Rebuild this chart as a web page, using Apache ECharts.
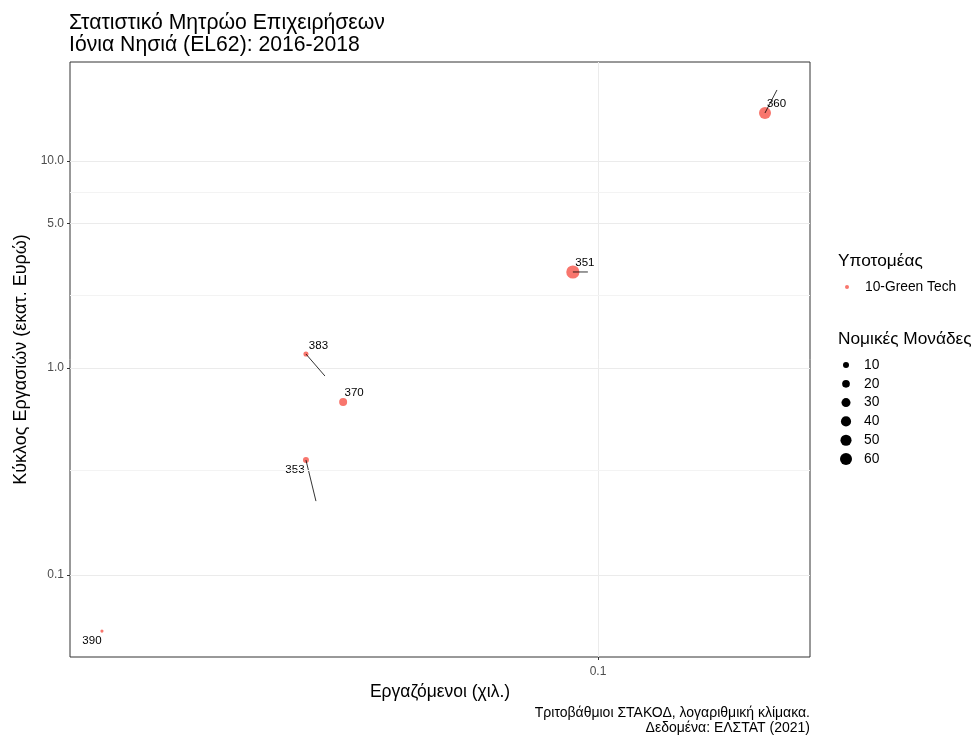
<!DOCTYPE html>
<html><head><meta charset="utf-8">
<script src="https://cdn.jsdelivr.net/npm/echarts@6/dist/echarts.min.js"></script>
<style>html,body{margin:0;padding:0;background:#fff}#c{width:972px;height:736px}</style>
</head><body><div id="c"></div><script>
// ---- data ----
const codes = ['351', '353', '360', '370', '383', '390'];
const employees = [0.0908, 0.0326, 0.1898, 0.0376, 0.0326, 0.0149];   // χιλ.
const turnover = [2.91, 0.359, 17.06, 0.685, 1.168, 0.0536];          // εκατ. Ευρώ
const units = [75, 10, 60, 22, 6, 1];                                  // Νομικές Μονάδες
const subsector = '10-Green Tech';
const sizeBreaks = [10, 20, 30, 40, 50, 60];
const xTicks = [0.1];
const xTickLabels = ['0.1'];
const yTicks = [0.1, 1, 5, 10];
const yTickLabels = ['0.1', '1.0', '5.0', '10.0'];
const yMinor = [0.316, 2.236, 7.071];

// ---- styling (label placement from ggrepel, in pixels) ----
const labelOffsets = {'351': [12, -9], '353': [-11, 10], '360': [11.5, -9], '370': [11, -9], '383': [12.5, -8.5], '390': [-10, 10]};
const segments = {'351': [15, 0], '353': [10, 41], '360': [12, -23], '383': [19, 22]};
const FONT = '"Liberation Sans", Arial, sans-serif';
const RED = '#F8766D';
const sizeFn = v => 1.86 + 1.31 * Math.sqrt(v);

const pts = codes.map((c, i) => [employees[i], turnover[i], units[i], c]);

const chart = echarts.init(document.getElementById('c'), null, {renderer: 'canvas'});

// legend + caption graphics
const gfx = [];
gfx.push({type: 'text', left: 838, top: 253, style: {text: 'Υποτομέας', font: '17.3px ' + FONT, fill: '#000'}});
gfx.push({type: 'circle', shape: {cx: 847, cy: 287, r: 2}, style: {fill: RED}});
gfx.push({type: 'text', left: 865, top: 280, style: {text: subsector, font: '13.8px ' + FONT, fill: '#000'}});
gfx.push({type: 'text', left: 838, top: 331, style: {text: 'Νομικές Μονάδες', font: '17.3px ' + FONT, fill: '#000'}});
sizeBreaks.forEach((b, i) => {
  const cy = 365 + i * 18.8;
  gfx.push({type: 'circle', shape: {cx: 846, cy: cy, r: sizeFn(b) / 2}, style: {fill: '#000'}});
  gfx.push({type: 'text', left: 864, top: cy - 7, style: {text: String(b), font: '13.8px ' + FONT, fill: '#000'}});
});
gfx.push({type: 'text', right: 162, top: 706, style: {text: 'Τριτοβάθμιοι ΣΤΑΚΟΔ, λογαριθμική κλίμακα.', font: '14px ' + FONT, fill: '#000'}});
gfx.push({type: 'text', right: 162, top: 721, style: {text: 'Δεδομένα: ΕΛΣΤΑΤ (2021)', font: '14px ' + FONT, fill: '#000'}});

chart.setOption({
  animation: false,
  backgroundColor: '#fff',
  title: {
    text: 'Στατιστικό Μητρώο Επιχειρήσεων\nΙόνια Νησιά (EL62): 2016-2018',
    left: 64, top: 7,
    textStyle: {fontFamily: FONT, fontSize: 21.2, fontWeight: 'normal', color: '#000', lineHeight: 22}
  },
  grid: {left: 70, right: 162, top: 62, bottom: 79, show: true, borderColor: '#333', borderWidth: 1, backgroundColor: 'transparent'},
  xAxis: {
    type: 'log', logBase: 10, min: 0.01318, max: 0.2256,
    name: 'Εργαζόμενοι (χιλ.)', nameLocation: 'middle', nameGap: 25,
    nameTextStyle: {fontFamily: FONT, fontSize: 17.5, color: '#000'},
    axisLine: {show: false},
    axisTick: {show: true, length: 3, lineStyle: {color: '#333'}, customValues: xTicks},
    axisLabel: {customValues: xTicks, margin: 9, fontFamily: FONT, fontSize: 12, color: '#4d4d4d',
      formatter: v => { const k = xTicks.findIndex(t => Math.abs(t - v) / t < 1e-6); return k >= 0 ? xTickLabels[k] : ''; }},
    splitLine: {show: true, lineStyle: {color: '#ebebeb', width: 1}},
    minorSplitLine: {show: false}
  },
  yAxis: {
    type: 'log', logBase: 10, min: 0.04017, max: 30.08,
    name: 'Κύκλος Εργασιών (εκατ. Ευρώ)', nameLocation: 'middle', nameGap: 39, nameRotate: 90,
    nameTextStyle: {fontFamily: FONT, fontSize: 18, color: '#000'},
    axisLine: {show: false},
    axisTick: {show: true, length: 3, lineStyle: {color: '#333'}, customValues: yTicks},
    axisLabel: {customValues: yTicks, margin: 6, fontFamily: FONT, fontSize: 12, color: '#4d4d4d',
      formatter: v => { const k = yTicks.findIndex(t => Math.abs(t - v) / t < 1e-6); return k >= 0 ? yTickLabels[k] : ''; }},
    splitLine: {show: true, lineStyle: {color: '#ebebeb', width: 1}}
  },
  graphic: gfx,
  series: [
    {
      type: 'scatter', name: 'minor', z: 1, silent: true,
      data: [],
      markLine: {silent: true, symbol: 'none', label: {show: false},
        lineStyle: {color: '#f3f3f3', width: 1, type: 'solid'},
        data: yMinor.map(v => ({yAxis: v}))}
    },
    {
      type: 'scatter', name: subsector, z: 3,
      data: pts,
      symbolSize: d => sizeFn(d[2]),
      itemStyle: {color: RED, opacity: 1},
      label: {show: true, position: 'inside', formatter: p => p.value[3], fontFamily: FONT, fontSize: 11.5, color: '#000'},
      labelLayout: p => { const o = labelOffsets[codes[p.dataIndex]]; return {dx: o[0], dy: o[1], hideOverlap: false}; }
    },
    {
      type: 'custom', z: 4, silent: true,
      data: codes.map((c, i) => [employees[i], turnover[i]]),
      renderItem: (params, api) => {
        const s = segments[codes[params.dataIndex]];
        if (!s) return null;
        const p = api.coord([api.value(0), api.value(1)]);
        return {type: 'line', shape: {x1: p[0], y1: p[1], x2: p[0] + s[0], y2: p[1] + s[1]}, style: {stroke: '#000', lineWidth: 0.8}};
      }
    }
  ]
});
</script></body></html>
